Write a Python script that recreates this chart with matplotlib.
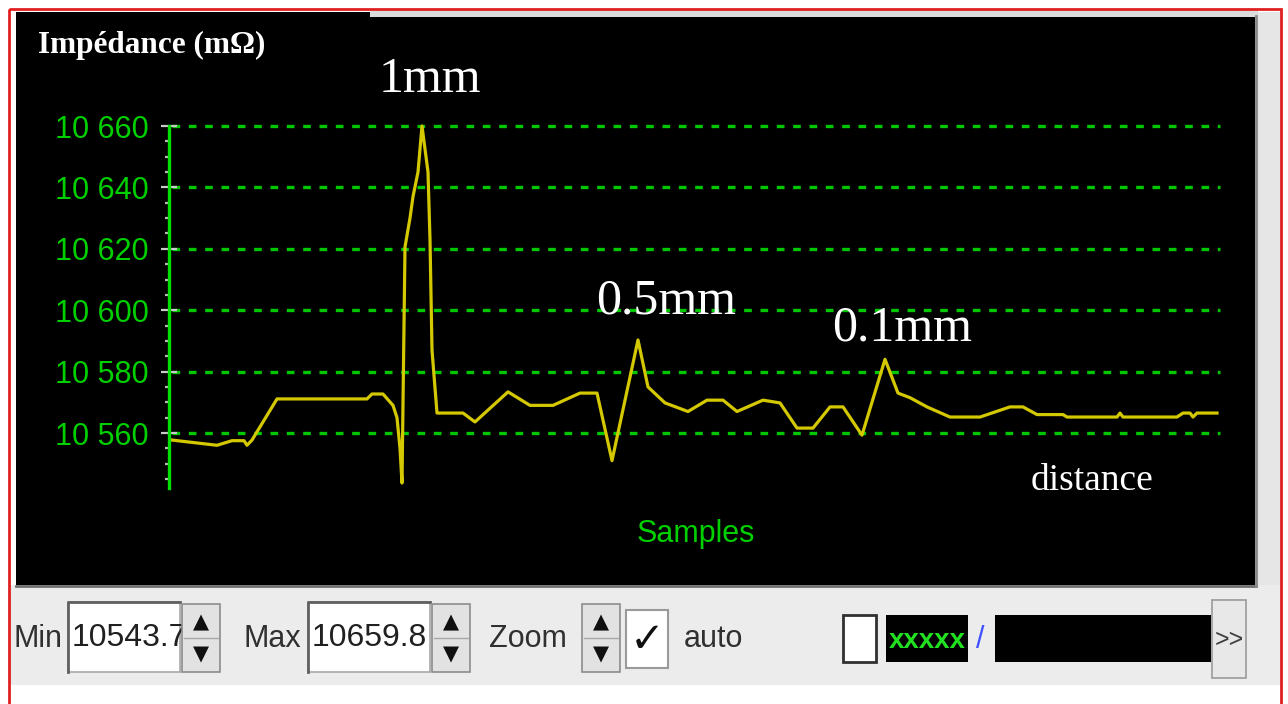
import matplotlib.pyplot as plt
from matplotlib.patches import Rectangle
from matplotlib.ticker import MultipleLocator

# impedance trace (x in samples, y in mOhm)
samples = [0, 45, 60, 72, 75, 80, 105, 195, 200, 211, 221, 225, 228, 230,
           233, 238, 241, 246, 250, 256, 258, 260, 265, 291, 303, 336, 358,
           381, 408, 425, 440, 466, 476, 493, 516, 535, 551, 565, 591, 608,
           625, 641, 658, 671, 690, 713, 726, 738, 755, 778, 808, 838, 851,
           865, 891, 895, 945, 948, 951, 1005, 1011, 1018, 1021, 1025, 1045]
impedance = [10557.7, 10556.0, 10557.5, 10557.5, 10556.0, 10557.7, 10571.1,
             10571.1, 10572.7, 10572.7, 10569.0, 10565.0, 10555.0, 10543.7,
             10620.6, 10630.0, 10637.0, 10645.0, 10660.0, 10645.0, 10623.0,
             10587.0, 10566.5, 10566.5, 10563.6, 10573.4, 10569.0, 10569.0,
             10573.0, 10573.0, 10551.0, 10590.3, 10575.0, 10569.8, 10567.0,
             10570.7, 10570.7, 10567.0, 10570.7, 10569.8, 10561.6, 10561.6,
             10568.5, 10568.5, 10559.3, 10584.0, 10573.0, 10571.5, 10568.5,
             10565.2, 10565.2, 10568.5, 10568.5, 10566.0, 10566.0, 10565.2,
             10565.2, 10566.5, 10565.2, 10565.2, 10566.5, 10566.5, 10565.2,
             10566.5, 10566.5]

yticks = [10560, 10580, 10600, 10620, 10640, 10660]
ytick_labels = ['10 560', '10 580', '10 600', '10 620', '10 640', '10 660']

# defect annotations above the peaks
defect_labels = ['1mm', '0.5mm', '0.1mm']
defect_x = [258, 494, 730]
defect_y = [10671, 10599, 10590]

min_value = '10543.7'
max_value = '10659.8'

W, H = 1288, 704
SANS = ['Liberation Sans', 'DejaVu Sans']
SERIF = ['Liberation Serif', 'DejaVu Serif']
GREEN = '#00d000'

fig = plt.figure(figsize=(W / 100, H / 100), dpi=100)
fig.patch.set_facecolor('white')

# pixel-space canvas for the window chrome
bg = fig.add_axes([0, 0, 1, 1])
bg.set_xlim(0, W)
bg.set_ylim(H, 0)
bg.axis('off')

bg.add_patch(Rectangle((1255, 12), 26, 575, fc='#e6e6e6', ec='none'))
bg.add_patch(Rectangle((10, 585), 1271, 100, fc='#ececec', ec='none'))
bg.add_patch(Rectangle((16, 12), 1239, 573, fc='black', ec='none'))
bg.add_patch(Rectangle((370, 11), 888, 6, fc='#dcdcdc', ec='none'))
bg.plot([16, 1256], [586, 586], color='#707070', lw=2)
bg.plot([1256, 1256], [16, 586], color='#8a8a8a', lw=2)
bg.add_patch(Rectangle((9, 9), 1272, 720, fc='none', ec='#e02020', lw=2,
                       clip_on=False))

bg.text(38, 53, 'Impédance (mΩ)', family=SERIF, weight='bold', fontsize=22.5,
        color='white', va='baseline', ha='left')


def text_box(x0, y0, w, h, s):
    bg.add_patch(Rectangle((x0, y0), w, h, fc='white', ec='#a8a8a8', lw=1.2,
                           zorder=1))
    bg.plot([x0, x0, x0 + w], [y0 + h, y0, y0], color='#606060', lw=2,
            zorder=1.5)
    bg.text(x0 + 4, y0 + h / 2 + 1, s, family=SANS, fontsize=23,
            color='#202020', va='center', ha='left', zorder=2)


def spinner(x0, y0, w, h):
    bg.add_patch(Rectangle((x0, y0), w, h, fc='#e2e2e2', ec='#8c8c8c', lw=1.2,
                           zorder=5))
    bg.plot([x0 + 2, x0 + w - 2], [y0 + h / 2] * 2, color='#a8a8a8', lw=1,
            zorder=6)
    bg.text(x0 + w / 2, y0 + h * 0.27, '▲', ha='center', va='center',
            fontsize=15, color='#101010', zorder=6)
    bg.text(x0 + w / 2, y0 + h * 0.74, '▼', ha='center', va='center',
            fontsize=15, color='#101010', zorder=6)


label_kw = dict(family=SANS, fontsize=22, color='#303030', va='center')
bg.text(14, 639, 'Min', ha='left', **label_kw)
text_box(68, 602, 112, 70, min_value)
spinner(182, 604, 38, 68)
bg.text(244, 639, 'Max', ha='left', **label_kw)
text_box(308, 602, 122, 70, max_value)
spinner(432, 604, 38, 68)
bg.text(489, 639, 'Zoom', ha='left', **label_kw)
spinner(582, 604, 38, 68)

bg.add_patch(Rectangle((626, 610), 42, 58, fc='white', ec='#9a9a9a', lw=1.5))
bg.text(647, 640, '✓', ha='center', va='center', fontsize=30,
        color='#101010', weight='bold', family='DejaVu Sans')
bg.text(684, 639, 'auto', ha='left', **label_kw)

bg.add_patch(Rectangle((843, 615), 33, 47, fc='white', ec='#303030', lw=2))
bg.add_patch(Rectangle((886, 615), 82, 47, fc='black', ec='none'))
bg.text(927, 641, 'xxxxx', ha='center', va='center', family=SANS,
        fontsize=20, weight='bold', color='#20e020')
bg.text(980, 640, '/', ha='center', va='center', family=SANS,
        fontsize=22, color='#4050ff')
bg.add_patch(Rectangle((995, 615), 216, 47, fc='black', ec='none'))
bg.add_patch(Rectangle((1212, 600), 34, 78, fc='#e8e8e8', ec='#9a9a9a',
                       lw=1.2))
bg.text(1229, 640, '>>', ha='center', va='center', family=SANS,
        fontsize=18, color='#404040')

# chart axes
ymin, ymax = 10541, 10662
px_per = 3.07
top_px = 126 - (ymax - 10660) * px_per
bot_px = 433 + (10560 - ymin) * px_per
ax = fig.add_axes([169 / W, 1 - bot_px / H, (1225 - 169) / W,
                   (bot_px - top_px) / H])
ax.set_facecolor('none')
ax.set_xlim(-3, 1053)
ax.set_ylim(ymin, ymax)

ax.hlines(yticks, 0, 1048, colors='#00c800', lw=2.4,
          linestyles=(0, (2.3, 2.6)), zorder=1)
ax.plot(samples, impedance, color='#d4c800', lw=2.3, zorder=3,
        clip_on=False)

for side in ['top', 'right', 'bottom']:
    ax.spines[side].set_visible(False)
ax.spines['left'].set_color('#00e000')
ax.spines['left'].set_linewidth(2.4)
ax.spines['left'].set_bounds(10542, 10660)
ax.spines['left'].set_zorder(4)

ax.set_xticks([])
ax.set_yticks(yticks)
ax.set_yticklabels(ytick_labels, family=SANS, fontsize=22, color=GREEN)
ax.yaxis.set_minor_locator(MultipleLocator(5))
ax.tick_params(axis='y', which='major', direction='inout', length=11,
               width=1.6, color='#c8c8c8', pad=9)
ax.tick_params(axis='y', which='minor', direction='out', length=3,
               width=1.6, color='#b8b8b8')

ax.text(524, 10527, 'Samples', family=SANS, fontsize=22, color=GREEN,
        ha='center', va='center', clip_on=False)

for lab, x, y in zip(defect_labels, defect_x, defect_y):
    ax.text(x, y, lab, family=SERIF, fontsize=36, color='white',
            ha='center', va='baseline', clip_on=False)
ax.text(920, 10541.5, 'distance', family=SERIF, fontsize=27, color='white',
        ha='center', va='baseline', clip_on=False)

fig.savefig('out.png', dpi=100, facecolor='white')
